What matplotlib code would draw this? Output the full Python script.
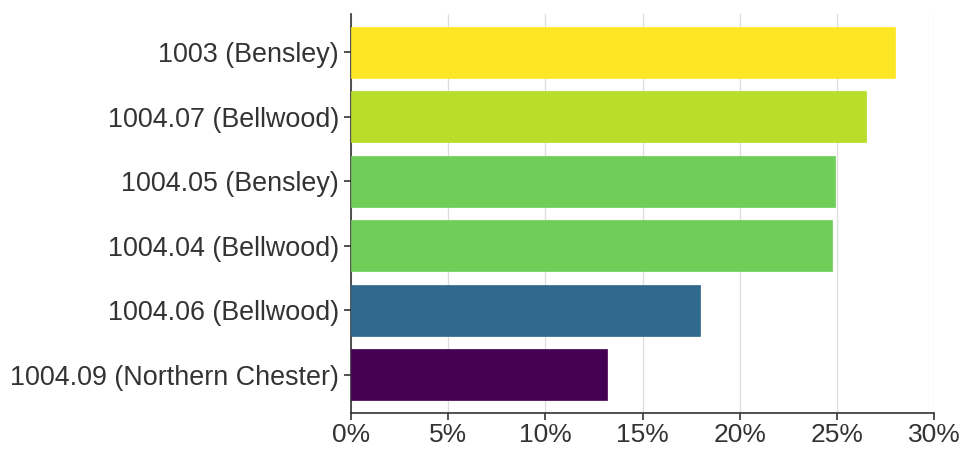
import matplotlib
matplotlib.use('Agg')
import matplotlib.pyplot as plt
from matplotlib.ticker import FuncFormatter

# data (top to bottom)
tracts = ['1003 (Bensley)', '1004.07 (Bellwood)', '1004.05 (Bensley)',
          '1004.04 (Bellwood)', '1004.06 (Bellwood)', '1004.09 (Northern Chester)']
share = [28.0, 26.5, 24.9, 24.75, 17.95, 13.15]
colors = ['#fde725', '#b8de29', '#6ece58', '#6ece58', '#31688e', '#440154']

plt.rcParams['font.family'] = ['Liberation Sans', 'DejaVu Sans']

fig = plt.figure(figsize=(9.64, 4.49), dpi=100)
ax = fig.add_axes([351 / 964, 1 - 413 / 449, (934 - 351) / 964, (413 - 14) / 449])

ypos = list(range(len(tracts) - 1, -1, -1))
ax.barh(ypos, share, height=0.79, color=colors, edgecolor=colors, linewidth=0.5, zorder=3)

ax.set_xlim(0, 30)
ax.set_ylim(-0.593, len(tracts) - 1 + 0.593)
ax.set_xticks([0, 5, 10, 15, 20, 25, 30])
ax.xaxis.set_major_formatter(FuncFormatter(lambda v, p: f'{v:.0f}%'))
ax.set_yticks(ypos)
ax.set_yticklabels(tracts)

ax.grid(axis='x', color='#dddddd', linewidth=0.9, zorder=0)
for s in ['top', 'right']:
    ax.spines[s].set_visible(False)
for s in ['left', 'bottom']:
    ax.spines[s].set_color('#333333')
    ax.spines[s].set_linewidth(1.2)

ax.tick_params(axis='y', labelsize=19.4, colors='#333333', length=5, width=1.2, pad=3.6)
ax.tick_params(axis='x', labelsize=19, colors='#333333', length=5, width=1.2, pad=2)

fig.savefig('out.png', dpi=100)
